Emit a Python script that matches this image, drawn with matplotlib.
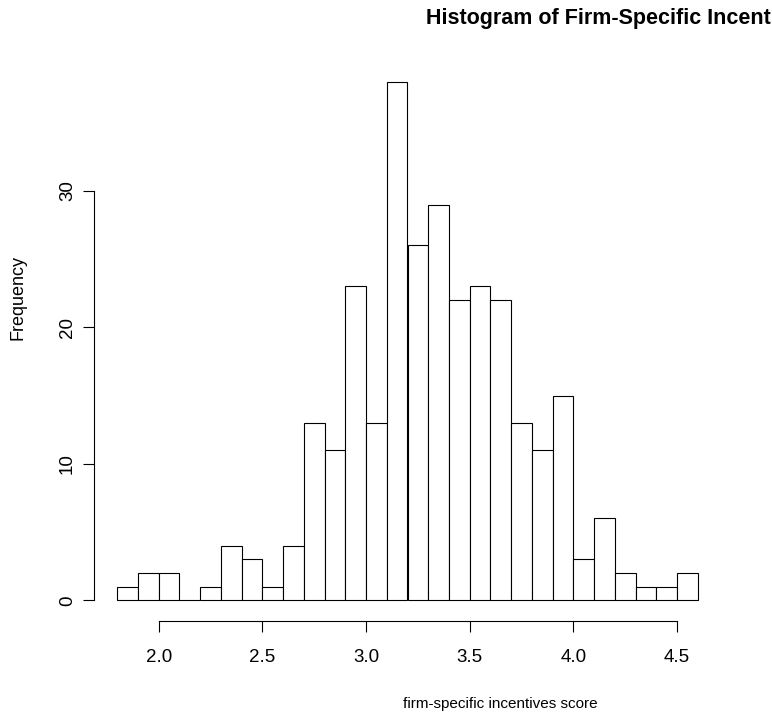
import matplotlib.pyplot as plt
import numpy as np

plt.rcParams['font.family'] = ['Liberation Sans', 'DejaVu Sans']

# bin left edges (width 0.1) and counts
bin_left = [1.8, 1.9, 2.0, 2.1, 2.2, 2.3, 2.4, 2.5, 2.6, 2.7, 2.8, 2.9, 3.0, 3.1,
            3.2, 3.3, 3.4, 3.5, 3.6, 3.7, 3.8, 3.9, 4.0, 4.1, 4.2, 4.3, 4.4, 4.5]
counts = [1, 2, 2, 0, 1, 4, 3, 1, 4, 13, 11, 23, 13, 38,
          26, 29, 22, 23, 22, 13, 11, 15, 3, 6, 2, 1, 1, 2]
bin_width = 0.1
xticks = [2.0, 2.5, 3.0, 3.5, 4.0, 4.5]
xtick_labels = ["2.0", "2.5", "3.0", "3.5", "4.0", "4.5"]
yticks = [0, 10, 20, 30]
# the title is cut at the right edge of the original picture
title = "Histogram of Firm-Specific Incent"

W, H = 772, 719
fig = plt.figure(figsize=(W / 100, H / 100), dpi=100)
ax = fig.add_axes([94 / W, (H - 621) / H, (721 - 94) / W, (621 - 61) / H])

ax.bar(bin_left, counts, width=bin_width, align='edge', color='white',
       edgecolor='black', linewidth=0.8)

ax.set_xlim(1.688, 4.712)
ax.set_ylim(-1.52, 39.52)

for s in ['top', 'right']:
    ax.spines[s].set_visible(False)
ax.spines['left'].set_bounds(0, 30)
ax.spines['bottom'].set_bounds(2.0, 4.5)
ax.spines['left'].set_linewidth(0.8)
ax.spines['bottom'].set_linewidth(0.8)

ax.set_xticks(xticks)
ax.set_xticklabels(xtick_labels)
ax.set_yticks(yticks)
ax.set_yticklabels([str(v) for v in yticks], rotation=90, va='center')
ax.tick_params(direction='out', length=7.9, width=0.8, labelsize=13.5)
ax.tick_params(axis='x', pad=12)
ax.tick_params(axis='y', pad=5)

fig.text(426 / W, 1 - 24 / H, title,
         fontsize=15.5, fontweight='bold', ha='left', va='baseline')
fig.text(500 / W, 1 - 704 / H, "firm-specific incentives score",
         fontsize=11, ha='center', va='center')
fig.text(18 / W, 1 - 297 / H, "Frequency", fontsize=13, rotation=90,
         ha='center', va='center')

plt.savefig("out.png", dpi=100)
